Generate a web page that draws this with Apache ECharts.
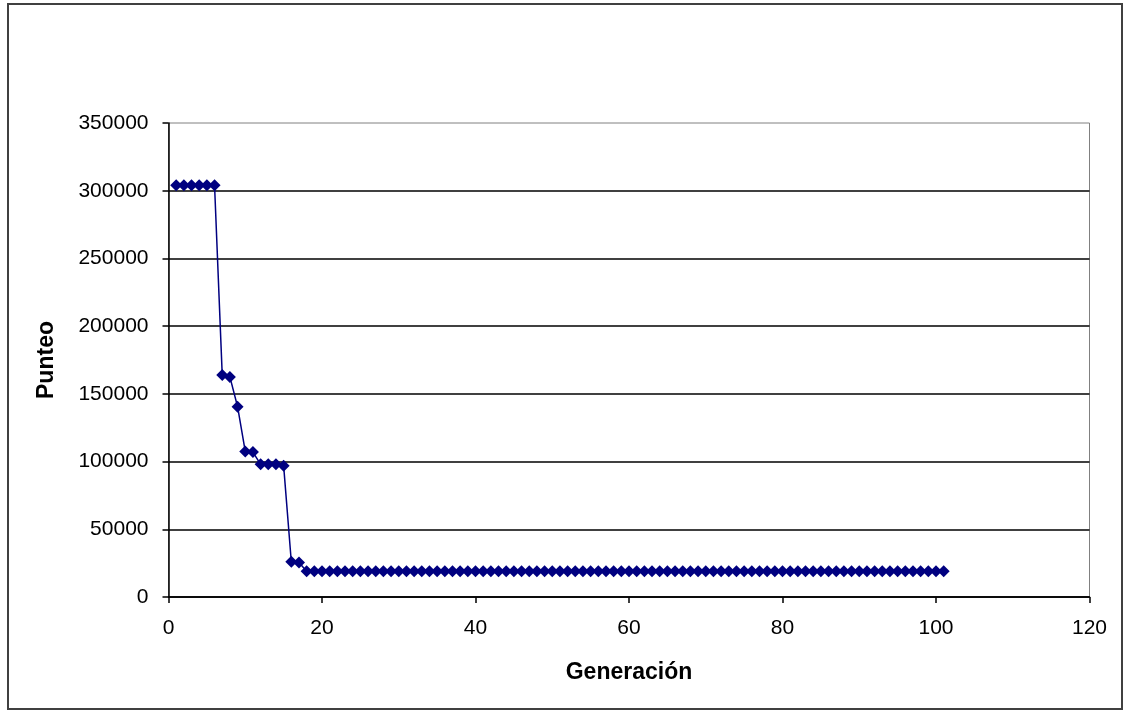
<!DOCTYPE html>
<html>
<head>
<meta charset="utf-8">
<script src="https://cdn.jsdelivr.net/npm/echarts@6/dist/echarts.min.js"></script>
<style>
html,body{margin:0;padding:0;background:#fff;}
#chart{width:1125px;height:714px;}
</style>
</head>
<body>
<div id="chart"></div>
<script>
const generaciones = [1,2,3,4,5,6,7,8,9,10,11,12,13,14,15,16,17,18,19,20,21,22,23,24,25,26,27,28,29,30,31,32,33,34,35,36,37,38,39,40,41,42,43,44,45,46,47,48,49,50,51,52,53,54,55,56,57,58,59,60,61,62,63,64,65,66,67,68,69,70,71,72,73,74,75,76,77,78,79,80,81,82,83,84,85,86,87,88,89,90,91,92,93,94,95,96,97,98,99,100,101];
const punteo = [304000,304000,304000,304000,304000,304000,164000,162500,140500,107500,107000,98000,98000,98000,97000,26000,25500,
19000,19000,19000,19000,19000,19000,19000,19000,19000,19000,19000,19000,19000,19000,19000,19000,19000,19000,19000,19000,19000,
19000,19000,19000,19000,19000,19000,19000,19000,19000,19000,19000,19000,19000,19000,19000,19000,19000,19000,19000,19000,19000,
19000,19000,19000,19000,19000,19000,19000,19000,19000,19000,19000,19000,19000,19000,19000,19000,19000,19000,19000,19000,19000,
19000,19000,19000,19000,19000,19000,19000,19000,19000,19000,19000,19000,19000,19000,19000,19000,19000,19000,19000,19000,19000];
const xTitle = 'Generación';
const yTitle = 'Punteo';

const chart = echarts.init(document.getElementById('chart'), null, {renderer:'canvas'});
const font = '"Liberation Sans", Arial, sans-serif';
const navy = '#000080';
chart.setOption({
  animation:false,
  backgroundColor:'#fff',
  textStyle:{fontFamily:font},
  graphic:[{
    type:'rect', z:-1,
    shape:{x:8, y:4, width:1114, height:705},
    style:{fill:'none', stroke:'#404040', lineWidth:2}
  }],
  grid:{left:168.5, right:35.5, top:123, bottom:117, show:true, borderColor:'#808080', borderWidth:1, backgroundColor:'transparent'},
  xAxis:{
    type:'value', min:0, max:120, interval:20,
    name:xTitle, nameLocation:'middle', nameGap:64,
    nameTextStyle:{fontFamily:font, fontSize:23, fontWeight:'bold', color:'#000'},
    axisLine:{show:true, onZero:false, lineStyle:{color:'#000', width:1.5}},
    axisTick:{show:true, inside:false, length:6, lineStyle:{color:'#000', width:1.5}},
    axisLabel:{fontFamily:font, fontSize:21, color:'#000', margin:21},
    splitLine:{show:false}
  },
  yAxis:{
    type:'value', min:0, max:350000, interval:50000,
    name:yTitle, nameLocation:'middle', nameGap:110, nameRotate:90,
    nameTextStyle:{fontFamily:font, fontSize:23, fontWeight:'bold', color:'#000'},
    axisLine:{show:true, lineStyle:{color:'#000', width:1.5}},
    axisTick:{show:true, inside:false, length:6, lineStyle:{color:'#000', width:1.5}},
    axisLabel:{fontFamily:font, fontSize:21, color:'#000', margin:20, formatter:v=>String(v)},
    splitLine:{show:true, showMaxLine:false, lineStyle:{color:'#000', width:1.5}}
  },
  series:[{
    type:'line',
    data: generaciones.map((g,i)=>[g, punteo[i]]),
    symbol:'diamond', symbolSize:12,
    lineStyle:{color:navy, width:1.5},
    itemStyle:{color:navy},
    showAllSymbol:true
  }]
});
</script>
</body>
</html>
